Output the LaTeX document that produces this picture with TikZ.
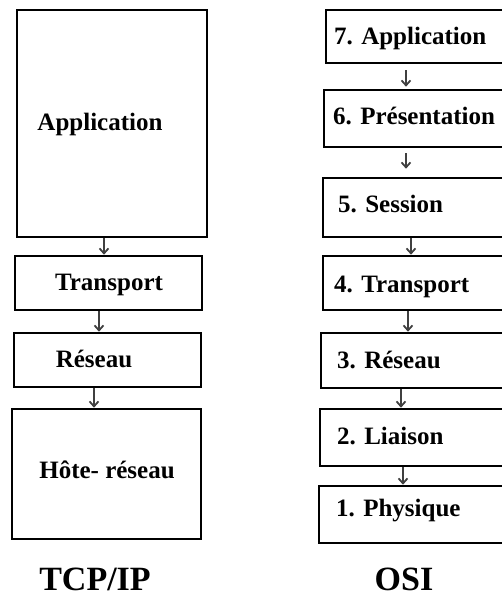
\documentclass[tikz,border=0pt]{standalone}
\usepackage{fontspec}
\setmainfont{Liberation Serif}
\usetikzlibrary{arrows.meta}
\tikzset{
  box/.style={draw=black, line width=2.6pt, rectangle, inner sep=0pt},
  lbl/.style={font=\fontsize{25}{28}\selectfont\bfseries, inner sep=0pt},
  ttl/.style={font=\fontsize{34}{36}\selectfont\bfseries, inner sep=0pt},
  arr/.style={draw=black!75, line width=2pt, -{Straight Barb[length=5pt,width=9pt,line width=1.8pt]}}
}
\begin{document}
\begin{tikzpicture}[x=1pt,y=-1pt]
\useasboundingbox (0,0) rectangle (502,596);
\clip (0,0) rectangle (502,596);
% TCP/IP column
\node[box, minimum width=190pt, minimum height=227pt] (tApp) at (112,123.5) {};
\node[box, minimum width=187pt, minimum height=54pt] (tTra) at (108.5,283) {};
\node[box, minimum width=187pt, minimum height=54pt] (tRes) at (107.5,360) {};
\node[box, minimum width=189pt, minimum height=130pt] (tHote) at (106.5,474) {};
\node[lbl, anchor=base] (lApp) at (100,131) {Application};
\node[lbl, anchor=base] (lTra) at (109,290) {Transport};
\node[lbl, anchor=base] (lRes) at (94,367) {Réseau};
\node[lbl, anchor=base] (lHote) at (107,478) {Hôte- réseau};
\draw[arr] (104,0 |- tApp.south) -- (104,0 |- tTra.north);
\draw[arr] (99,0 |- tTra.south) -- (99,0 |- tRes.north);
\draw[arr] (94,0 |- tRes.south) -- (94,0 |- tHote.north);
\node[ttl, anchor=base] (tcp) at (95,590) {TCP/IP};
% OSI column
\node[box, minimum width=194pt, minimum height=53pt] (o7) at (423,36.5) {};
\node[box, minimum width=196pt, minimum height=57pt] (o6) at (422,118.5) {};
\node[box, minimum width=197pt, minimum height=59pt] (o5) at (421.5,207.5) {};
\node[box, minimum width=197pt, minimum height=54pt] (o4) at (421.5,283) {};
\node[box, minimum width=199pt, minimum height=55pt] (o3) at (420.5,360.5) {};
\node[box, minimum width=200pt, minimum height=57pt] (o2) at (420,437.5) {};
\node[box, minimum width=201pt, minimum height=57pt] (o1) at (419.5,514.5) {};
\node[lbl, anchor=base west] (l7) at (334,45) {7. Application};
\node[lbl, anchor=base west] (l6) at (333,125) {6. Présentation};
\node[lbl, anchor=base west] (l5) at (338,212) {5. Session};
\node[lbl, anchor=base west] (l4) at (334,292) {4. Transport};
\node[lbl, anchor=base west] (l3) at (337,368) {3. Réseau};
\node[lbl, anchor=base west] (l2) at (337,444) {2. Liaison};
\node[lbl, anchor=base west] (l1) at (336,516) {1. Physique};
\draw[arr, shorten <=6pt, shorten >=2pt] (406,0 |- o7.south) -- (406,0 |- o6.north);
\draw[arr, shorten <=5pt, shorten >=8pt] (406,0 |- o6.south) -- (406,0 |- o5.north);
\draw[arr] (411,0 |- o5.south) -- (411,0 |- o4.north);
\draw[arr] (408,0 |- o4.south) -- (408,0 |- o3.north);
\draw[arr] (401,0 |- o3.south) -- (401,0 |- o2.north);
\draw[arr] (403,0 |- o2.south) -- (403,0 |- o1.north);
\node[ttl, anchor=base] (osi) at (404,590) {OSI};
\end{tikzpicture}
\end{document}
